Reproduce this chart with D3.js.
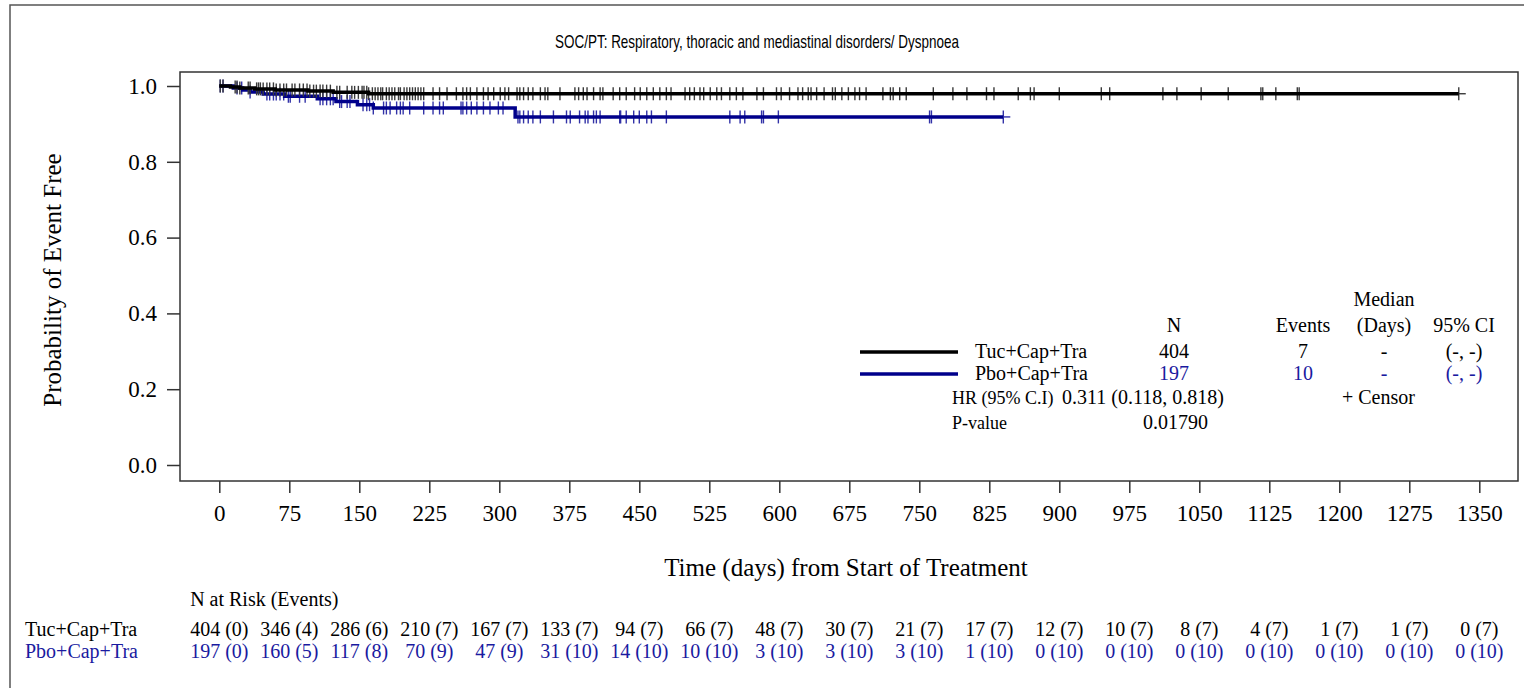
<!DOCTYPE html>
<html>
<head>
<meta charset="utf-8">
<script src="https://cdn.jsdelivr.net/npm/d3@7"></script>
<style>
  body { margin: 0; background: #fff; }
  svg text { font-family: "Liberation Serif", "Times New Roman", serif; fill: #000; }
</style>
</head>
<body>
<svg id="chart" width="1524" height="688"></svg>
<script>
// KM curve for SOC/PT dyspnoea

var armNames = ['Tuc+Cap+Tra', 'Pbo+Cap+Tra'];
var armColors = ['#000000', '#00008B'];
var censorColors = ['#3a3a3a', '#3333a8'];
var textColors = ['#000000', '#1a1aa0'];

// event times (days) and survival after each step
var tucTimes = [0, 12, 22, 38, 60, 95, 122, 160];
var tucSurv  = [1, 0.9975, 0.9950, 0.9924, 0.9896, 0.9865, 0.9832, 0.9796];
var pboTimes = [0, 15, 25, 33, 47, 70, 105, 125, 148, 165, 317];
var pboSurv  = [1, 0.9949, 0.9897, 0.9843, 0.9788, 0.9729, 0.9662, 0.9589, 0.9508, 0.9420, 0.9184];

// censoring times (days)
var tucCensor = [1, 4, 17, 19, 22, 31, 33, 40, 42, 44, 47, 51, 54, 58, 61, 65, 69, 72, 78, 81, 86, 90, 94, 97,
  101, 104, 108, 111, 115, 119, 126, 129, 137, 142, 145, 149, 153, 155, 158, 160, 164, 167, 170, 173, 175,
  179, 182, 185, 188, 192, 194, 198, 201, 204, 207, 210, 213, 216, 219, 229, 236, 244, 254, 261, 265, 269,
  276, 283, 288, 294, 301, 306, 310, 319, 322, 326, 331, 336, 344, 349, 352, 365, 381, 385, 390, 394, 401,
  408, 411, 422, 429, 436, 445, 451, 458, 465, 472, 479, 484, 499, 504, 509, 515, 519, 526, 533, 538, 547,
  554, 561, 576, 583, 597, 602, 611, 620, 625, 631, 634, 640, 648, 657, 660, 667, 674, 681, 686, 693, 711,
  719, 722, 729, 736, 765, 786, 801, 822, 830, 856, 869, 873, 900, 945, 954, 1011, 1026, 1052, 1081, 1116,
  1118, 1132, 1155, 1157, 1328];
var pboCensor = [1, 4, 19, 24, 33, 51, 54, 58, 61, 65, 69, 74, 76, 86, 92, 108, 111, 115, 119, 122, 129, 131,
  137, 140, 154, 158, 161, 165, 176, 179, 183, 190, 194, 197, 204, 219, 229, 236, 240, 259, 261, 265, 270,
  276, 283, 290, 299, 304, 320, 322, 326, 331, 336, 344, 358, 372, 376, 386, 392, 395, 401, 404, 408, 429,
  430, 436, 444, 450, 458, 463, 479, 547, 558, 563, 581, 583, 599, 761, 763, 840];

var xTicks = [0, 75, 150, 225, 300, 375, 450, 525, 600, 675, 750, 825, 900, 975, 1050, 1125, 1200, 1275, 1350];
var yTicks = [0, 0.2, 0.4, 0.6, 0.8, 1.0];

// number at risk and cumulative events at each x tick
var tucRisk   = [404, 346, 286, 210, 167, 133, 94, 66, 48, 30, 21, 17, 12, 10, 8, 4, 1, 1, 0];
var tucEvents = [0, 4, 6, 7, 7, 7, 7, 7, 7, 7, 7, 7, 7, 7, 7, 7, 7, 7, 7];
var pboRisk   = [197, 160, 117, 70, 47, 31, 14, 10, 3, 3, 3, 1, 0, 0, 0, 0, 0, 0, 0];
var pboEvents = [0, 5, 8, 9, 9, 10, 10, 10, 10, 10, 10, 10, 10, 10, 10, 10, 10, 10, 10];

// summary table
var legendN = [404, 197];
var legendEvents = [7, 10];
var legendMedian = ['-', '-'];
var legendCI = ['(-, -)', '(-, -)'];
var hrText = '0.311 (0.118, 0.818)';
var pText = '0.01790';

var svg = d3.select('#chart');
var box = {left: 180, right: 1518, top: 72, bottom: 481};

var x = d3.scaleLinear().domain([0, 1350]).range([219.3, 1479.3]);
var y = d3.scaleLinear().domain([0, 1]).range([465, 86]);

// outer frame
svg.append('path').attr('d', 'M10,688V5H1524').attr('fill', 'none').attr('stroke', '#555').attr('stroke-width', 1.5);

// title
svg.append('text')
  .attr('x', 757).attr('y', 48)
  .attr('text-anchor', 'middle')
  .style('font-family', '"Liberation Sans Narrow", "Liberation Sans", Arial, sans-serif')
  .style('font-size', '19px')
  .attr('textLength', 404).attr('lengthAdjust', 'spacingAndGlyphs')
  .text('SOC/PT: Respiratory, thoracic and mediastinal disorders/ Dyspnoea');

// plot box
svg.append('rect')
  .attr('x', box.left).attr('y', box.top)
  .attr('width', box.right - box.left).attr('height', box.bottom - box.top)
  .attr('fill', 'none').attr('stroke', '#333').attr('stroke-width', 1.5);

// axes
var yAxis = d3.axisLeft(y).tickValues(yTicks).tickFormat(d3.format('.1f')).tickSize(13).tickPadding(10);
var gy = svg.append('g').attr('transform', 'translate(' + box.left + ',0)').call(yAxis);
gy.select('.domain').remove();
gy.selectAll('line').attr('stroke', '#333').attr('stroke-width', 1.5);
gy.selectAll('text').style('font-size', '23px').style('font-family', '"Liberation Serif", serif');

var xAxis = d3.axisBottom(x).tickValues(xTicks).tickFormat(d3.format('d')).tickSize(12).tickPadding(12);
var gx = svg.append('g').attr('transform', 'translate(0,' + box.bottom + ')').call(xAxis);
gx.select('.domain').remove();
gx.selectAll('line').attr('stroke', '#333').attr('stroke-width', 1.5);
gx.selectAll('text').style('font-size', '23px').style('font-family', '"Liberation Serif", serif');

svg.append('text')
  .attr('transform', 'translate(61,280) rotate(-90)')
  .attr('text-anchor', 'middle')
  .style('font-size', '25px')
  .text('Probability of Event Free');

svg.append('text')
  .attr('x', 846).attr('y', 576)
  .attr('text-anchor', 'middle')
  .style('font-size', '25px')
  .text('Time (days) from Start of Treatment');

// curves
function stepValue(times, surv, t) {
  var i = d3.bisectRight(times, t) - 1;
  return surv[Math.max(i, 0)];
}

var arms = [
  {times: tucTimes, surv: tucSurv, censor: tucCensor},
  {times: pboTimes, surv: pboSurv, censor: pboCensor}
];

var line = d3.line().curve(d3.curveStepAfter).x(function(d) { return x(d[0]); }).y(function(d) { return y(d[1]); });

// draw placebo first so the black curve sits on top
[1, 0].forEach(function(k) {
  var a = arms[k];
  var pts = a.times.map(function(t, i) { return [t, a.surv[i]]; });
  var lastT = d3.max(a.censor);
  pts.push([lastT, a.surv[a.surv.length - 1]]);

  var g = svg.append('g');
  g.selectAll('line.cens')
    .data(a.censor)
    .enter().append('line')
    .attr('class', 'cens')
    .attr('x1', function(t) { return x(t); })
    .attr('x2', function(t) { return x(t); })
    .attr('y1', function(t) { return y(stepValue(a.times, a.surv, t)) - 6.5; })
    .attr('y2', function(t) { return y(stepValue(a.times, a.surv, t)) + 6.5; })
    .attr('stroke', censorColors[k]).attr('stroke-width', 1.4);

  g.append('path').datum(pts)
    .attr('d', line)
    .attr('fill', 'none')
    .attr('stroke', armColors[k])
    .attr('stroke-width', 3.5);

  // horizontal stub of the last censor mark
  g.append('line')
    .attr('x1', x(lastT)).attr('x2', x(lastT) + 7)
    .attr('y1', y(a.surv[a.surv.length - 1])).attr('y2', y(a.surv[a.surv.length - 1]))
    .attr('stroke', censorColors[k]).attr('stroke-width', 1.4);
});

// legend / summary table
var lg = svg.append('g').style('font-size', '20px');
var colN = 1174, colEv = 1303, colMed = 1384, colCI = 1464;
lg.append('text').attr('x', colMed).attr('y', 306).attr('text-anchor', 'middle').text('Median');
lg.append('text').attr('x', colN).attr('y', 332).attr('text-anchor', 'middle').text('N');
lg.append('text').attr('x', colEv).attr('y', 332).attr('text-anchor', 'middle').text('Events');
lg.append('text').attr('x', colMed).attr('y', 332).attr('text-anchor', 'middle').text('(Days)');
lg.append('text').attr('x', colCI).attr('y', 332).attr('text-anchor', 'middle').text('95% CI');

var rowY = [352, 374];
armNames.forEach(function(name, k) {
  var yy = rowY[k];
  lg.append('line').attr('x1', 860).attr('x2', 958).attr('y1', yy).attr('y2', yy)
    .attr('stroke', armColors[k]).attr('stroke-width', 3.5);
  lg.append('text').attr('x', 975).attr('y', yy + 6).text(name);
  var fill = textColors[k];
  lg.append('text').attr('x', colN).attr('y', yy + 6).attr('text-anchor', 'middle').style('fill', fill).text(legendN[k]);
  lg.append('text').attr('x', colEv).attr('y', yy + 6).attr('text-anchor', 'middle').style('fill', fill).text(legendEvents[k]);
  lg.append('text').attr('x', colMed).attr('y', yy + 6).attr('text-anchor', 'middle').style('fill', fill).text(legendMedian[k]);
  lg.append('text').attr('x', colCI).attr('y', yy + 6).attr('text-anchor', 'middle').style('fill', fill).text(legendCI[k]);
});

var sg = svg.append('g');
sg.append('text').attr('x', 952).attr('y', 404).style('font-size', '18px').text('HR (95% C.I)');
sg.append('text').attr('x', 1062).attr('y', 404).style('font-size', '20px').text(hrText);
sg.append('text').attr('x', 1342).attr('y', 404).style('font-size', '20px').text('+ Censor');
sg.append('text').attr('x', 952).attr('y', 429).style('font-size', '18px').text('P-value');
sg.append('text').attr('x', 1143).attr('y', 429).style('font-size', '20px').text(pText);

// number at risk table
var rt = svg.append('g').style('font-size', '20px');
var riskRows = [
  {name: armNames[0], risk: tucRisk, ev: tucEvents, y: 636, fill: textColors[0]},
  {name: armNames[1], risk: pboRisk, ev: pboEvents, y: 658, fill: textColors[1]}
];
var firstLeft = x(0);
riskRows.forEach(function(r) {
  rt.append('text').attr('x', 25).attr('y', r.y).style('fill', r.fill).text(r.name);
  rt.selectAll(null)
    .data(xTicks)
    .enter().append('text')
    .attr('x', function(t) { return x(t); })
    .attr('y', r.y)
    .attr('text-anchor', 'middle')
    .style('fill', r.fill)
    .text(function(t, i) { return r.risk[i] + ' (' + r.ev[i] + ')'; })
    .each(function(t, i) {
      if (i === 0) firstLeft = Math.min(firstLeft, x(t) - this.getComputedTextLength() / 2);
    });
});
rt.append('text').attr('x', firstLeft).attr('y', 606).text('N at Risk (Events)');
</script>
</body>
</html>
